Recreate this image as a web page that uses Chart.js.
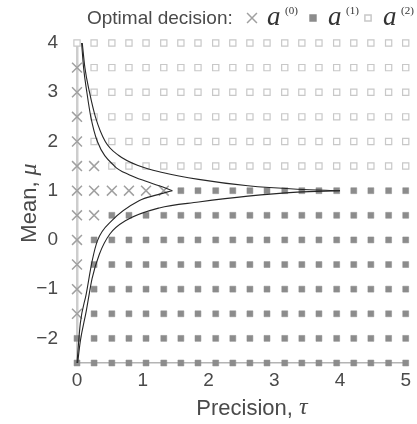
<!DOCTYPE html>
<html>
<head>
<meta charset="utf-8">
<script src="https://cdn.jsdelivr.net/npm/chart.js@4"></script>
<style>
  html, body { margin: 0; padding: 0; background: #fff; overflow: hidden; }
</style>
</head>
<body>
<canvas id="decision-chart" width="417" height="424"></canvas>
<script>
// grid of (precision, mean) points where the optimal decision was evaluated
const tauGrid = [0, 0.26, 0.53, 0.79, 1.05, 1.32, 1.58, 1.84, 2.11, 2.37, 2.63, 2.89, 3.16, 3.42, 3.68, 3.95, 4.21, 4.47, 4.74, 5];
const muGrid = [4, 3.5, 3, 2.5, 2, 1.5, 1, 0.5, 0, -0.5, -1, -1.5, -2, -2.5];

// one string per mu row (top to bottom), one digit per tau column = index of a^(k)
const decisionRows = [
  "22222222222222222222",
  "02222222222222222222",
  "02222222222222222222",
  "02222222222222222222",
  "02222222222222222222",
  "00222222222222222222",
  "00000011111111111111",
  "00111111111111111111",
  "01111111111111111111",
  "01111111111111111111",
  "01111111111111111111",
  "01111111111111111111",
  "11111111111111111111",
  "11111111111111111111",
];

// boundary curves [tau, mu]
const outerUpper = [[0.08, 4], [0.12, 3.5], [0.19, 3], [0.28, 2.5], [0.43, 2], [0.63, 1.72], [0.95, 1.5], [1.3, 1.37], [1.85, 1.23], [2.6, 1.1], [3.35, 1.03], [4, 1]];
const innerUpper = [[0.07, 4], [0.1, 3.5], [0.15, 3], [0.21, 2.5], [0.31, 2], [0.57, 1.5], [0.8, 1.32], [1.05, 1.19], [1.25, 1.1], [1.45, 1]];
const innerLower = [[0, -2.5], [0.05, -1.7], [0.14, -1.1], [0.23, -0.43], [0.31, -0.02], [0.53, 0.39], [0.95, 0.8], [1.2, 0.91], [1.45, 1]];
const outerLower = [[0.01, -2.5], [0.05, -2.06], [0.14, -1.45], [0.23, -0.78], [0.34, -0.29], [0.5, 0.12], [0.75, 0.4], [1.25, 0.65], [1.85, 0.77], [2.6, 0.89], [3.35, 0.97], [4, 1]];

const xTicks = [0, 1, 2, 3, 4, 5];
const yTicks = [-2, -1, 0, 1, 2, 3, 4];

const SANS = "'Liberation Sans', Arial, sans-serif";
const SERIF = "'Liberation Serif', 'Times New Roman', serif";
const TEXT_COLOR = "#4a4a4a";

function pointsFor(code) {
  const pts = [];
  for (let r = 0; r < muGrid.length; r++) {
    for (let c = 0; c < tauGrid.length; c++) {
      if (decisionRows[r][c] === String(code)) {
        pts.push({ x: tauGrid[c], y: muGrid[r] });
      }
    }
  }
  return pts;
}

function curve(data) {
  return {
    data: data.map((p) => ({ x: p[0], y: p[1] })),
    showLine: true,
    pointRadius: 0,
    borderColor: "#262626",
    borderWidth: 1.1,
    cubicInterpolationMode: "monotone",
    clip: false,
  };
}

const markerStyles = [
  { pointStyle: "crossRot", pointRadius: 7, borderColor: "#a0a0a0", backgroundColor: "#a0a0a0", pointBorderWidth: 1.5 },
  { pointStyle: "rect", pointRadius: 4.2, borderColor: "#8c8c8c", backgroundColor: "#8c8c8c", pointBorderWidth: 0.5 },
  { pointStyle: "rect", pointRadius: 4.4, borderColor: "#c8c8c8", backgroundColor: "#ffffff", pointBorderWidth: 1.2 },
];

// legend + axis titles (need superscripts / mixed fonts)
const labelPlugin = {
  id: "labelPlugin",
  afterDraw(chart) {
    const ctx = chart.ctx;
    const area = chart.chartArea;
    ctx.save();
    ctx.fillStyle = TEXT_COLOR;
    ctx.textBaseline = "alphabetic";
    ctx.textAlign = "left";

    ctx.font = "19px " + SANS;
    ctx.fillText("Optimal decision:", 87, 24);

    const items = [
      { x: 252, label: "(0)" },
      { x: 313, label: "(1)" },
      { x: 368, label: "(2)" },
    ];
    items.forEach((item, i) => {
      const st = markerStyles[i];
      ctx.save();
      ctx.strokeStyle = st.borderColor;
      ctx.fillStyle = st.backgroundColor;
      Chart.helpers.drawPoint(ctx, {
        pointStyle: st.pointStyle,
        radius: st.pointRadius,
        rotation: 0,
        borderWidth: st.pointBorderWidth,
      }, item.x, 18);
      ctx.restore();
      ctx.fillStyle = "#333";
      ctx.font = "italic 27px " + SERIF;
      ctx.fillText("a", item.x + 15, 25);
      ctx.font = "11px " + SERIF;
      ctx.fillText(item.label, item.x + 33, 14);
    });

    // x title
    ctx.fillStyle = TEXT_COLOR;
    ctx.textBaseline = "middle";
    const xa = "Precision, ";
    ctx.font = "22px " + SANS;
    const w1 = ctx.measureText(xa).width;
    ctx.font = "italic 24px " + SERIF;
    const w2 = ctx.measureText("\u03c4").width;
    let sx = 252 - (w1 + w2) / 2;
    ctx.font = "22px " + SANS;
    ctx.fillText(xa, sx, 409);
    ctx.font = "italic 24px " + SERIF;
    ctx.fillText("\u03c4", sx + w1, 408);

    // y title
    ctx.translate(30, (area.top + area.bottom) / 2);
    ctx.rotate(-Math.PI / 2);
    const ya = "Mean, ";
    ctx.font = "22px " + SANS;
    const h1 = ctx.measureText(ya).width;
    ctx.font = "italic 24px " + SERIF;
    const h2 = ctx.measureText("\u03bc").width;
    sx = -(h1 + h2) / 2;
    ctx.font = "22px " + SANS;
    ctx.fillText(ya, sx, 0);
    ctx.font = "italic 24px " + SERIF;
    ctx.fillText("\u03bc", sx + h1, 0);
    ctx.restore();
  },
};

const ctx = document.getElementById("decision-chart").getContext("2d");

new Chart(ctx, {
  type: "scatter",
  data: {
    datasets: [
      curve(outerUpper),
      curve(innerUpper),
      curve(innerLower),
      curve(outerLower),
      Object.assign({ data: pointsFor(0), clip: false }, markerStyles[0]),
      Object.assign({ data: pointsFor(1), clip: false }, markerStyles[1]),
      Object.assign({ data: pointsFor(2), clip: false }, markerStyles[2]),
    ],
  },
  options: {
    responsive: false,
    animation: false,
    events: [],
    layout: {
      padding: { top: 43, right: 7, left: 0, bottom: 0 },
    },
    plugins: {
      legend: { display: false },
      tooltip: { enabled: false },
    },
    scales: {
      x: {
        type: "linear",
        min: 0,
        max: 5,
        grid: { display: false, drawTicks: false },
        border: { display: true, color: "#b4b4b4", width: 1.5 },
        ticks: {
          color: TEXT_COLOR,
          font: { family: SANS, size: 19 },
          padding: 6,
        },
        afterBuildTicks: (scale) => {
          scale.ticks = xTicks.map((v) => ({ value: v }));
        },
        afterFit: (scale) => {
          scale.height = 61;
        },
      },
      y: {
        type: "linear",
        min: -2.5,
        max: 4,
        grid: { display: false, drawTicks: false },
        border: { display: true, color: "#cdcdcd", width: 2.5 },
        ticks: {
          color: TEXT_COLOR,
          font: { family: SANS, size: 19 },
          padding: 19,
          callback: (v) => String(v).replace("-", "\u2212"),
        },
        afterBuildTicks: (scale) => {
          scale.ticks = yTicks.map((v) => ({ value: v }));
        },
        afterFit: (scale) => {
          scale.width = 77;
        },
      },
    },
  },
  plugins: [labelPlugin],
});
</script>
</body>
</html>
